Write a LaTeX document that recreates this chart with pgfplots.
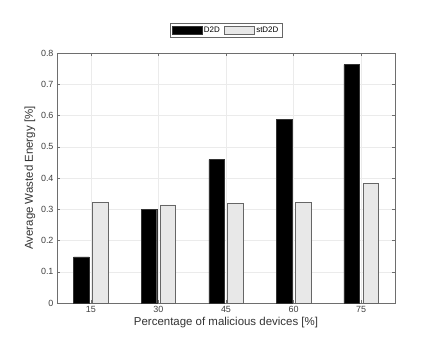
\documentclass[border=0pt]{standalone}
\usepackage{pgfplots}
\pgfplotsset{compat=1.18}
\usepackage{fontspec}
\setmainfont{Liberation Sans}
\definecolor{stgray}{RGB}{232,232,232}
\definecolor{axgray}{RGB}{110,110,110}
\pgfplotsset{barleg/.style={legend image code/.code={\draw[##1] (0bp,-4bp) rectangle (30bp,4bp);}}}

\begin{document}
\begin{tikzpicture}
\path[use as bounding box] (-57bp,-34bp) rectangle (380bp,303bp);
\begin{axis}[
    at={(0,0)}, anchor=south west,
    width=338bp, height=250bp, scale only axis,
    ybar, bar width=0.23,
    xmin=0.5, xmax=5.5, ymin=0, ymax=0.8,
    xtick={1,2,3,4,5}, xticklabels={15,30,45,60,75},
    ytick={0,0.1,...,0.8},
    yticklabel style={/pgf/number format/fixed},
    /pgf/number format/assume math mode=true,
    tick label style={font=\fontsize{9}{10}\selectfont, text=black!75},
    label style={font=\fontsize{11.5}{13}\selectfont, text=black!80},
    xlabel={Percentage of malicious devices [\%]},
    ylabel={Average Wasted Energy [\%]},
    xlabel style={yshift=3bp},
    ylabel style={yshift=-1bp},
    grid=major, grid style={black!8, line width=0.5pt},
    axis line style={axgray},
    tick style={axgray},
    tick align=inside, major tick length=3bp,
    legend columns=2,
    legend style={at={(0.5,1.09)}, anchor=center, draw=black!60,
        font=\fontsize{8}{9}\selectfont, inner sep=1.5bp,
        /tikz/every even column/.append style={column sep=2bp}},
]
\addplot[fill=black, draw=black!80, bar shift=-0.14, barleg]
    coordinates {(1,0.148)(2,0.299)(3,0.459)(4,0.587)(5,0.763)};
\addlegendentry{D2D}
\addplot[fill=stgray, draw=black!60, bar shift=0.14, barleg]
    coordinates {(1,0.322)(2,0.314)(3,0.318)(4,0.322)(5,0.382)};
\addlegendentry{stD2D}
\end{axis}
\end{tikzpicture}
\end{document}
